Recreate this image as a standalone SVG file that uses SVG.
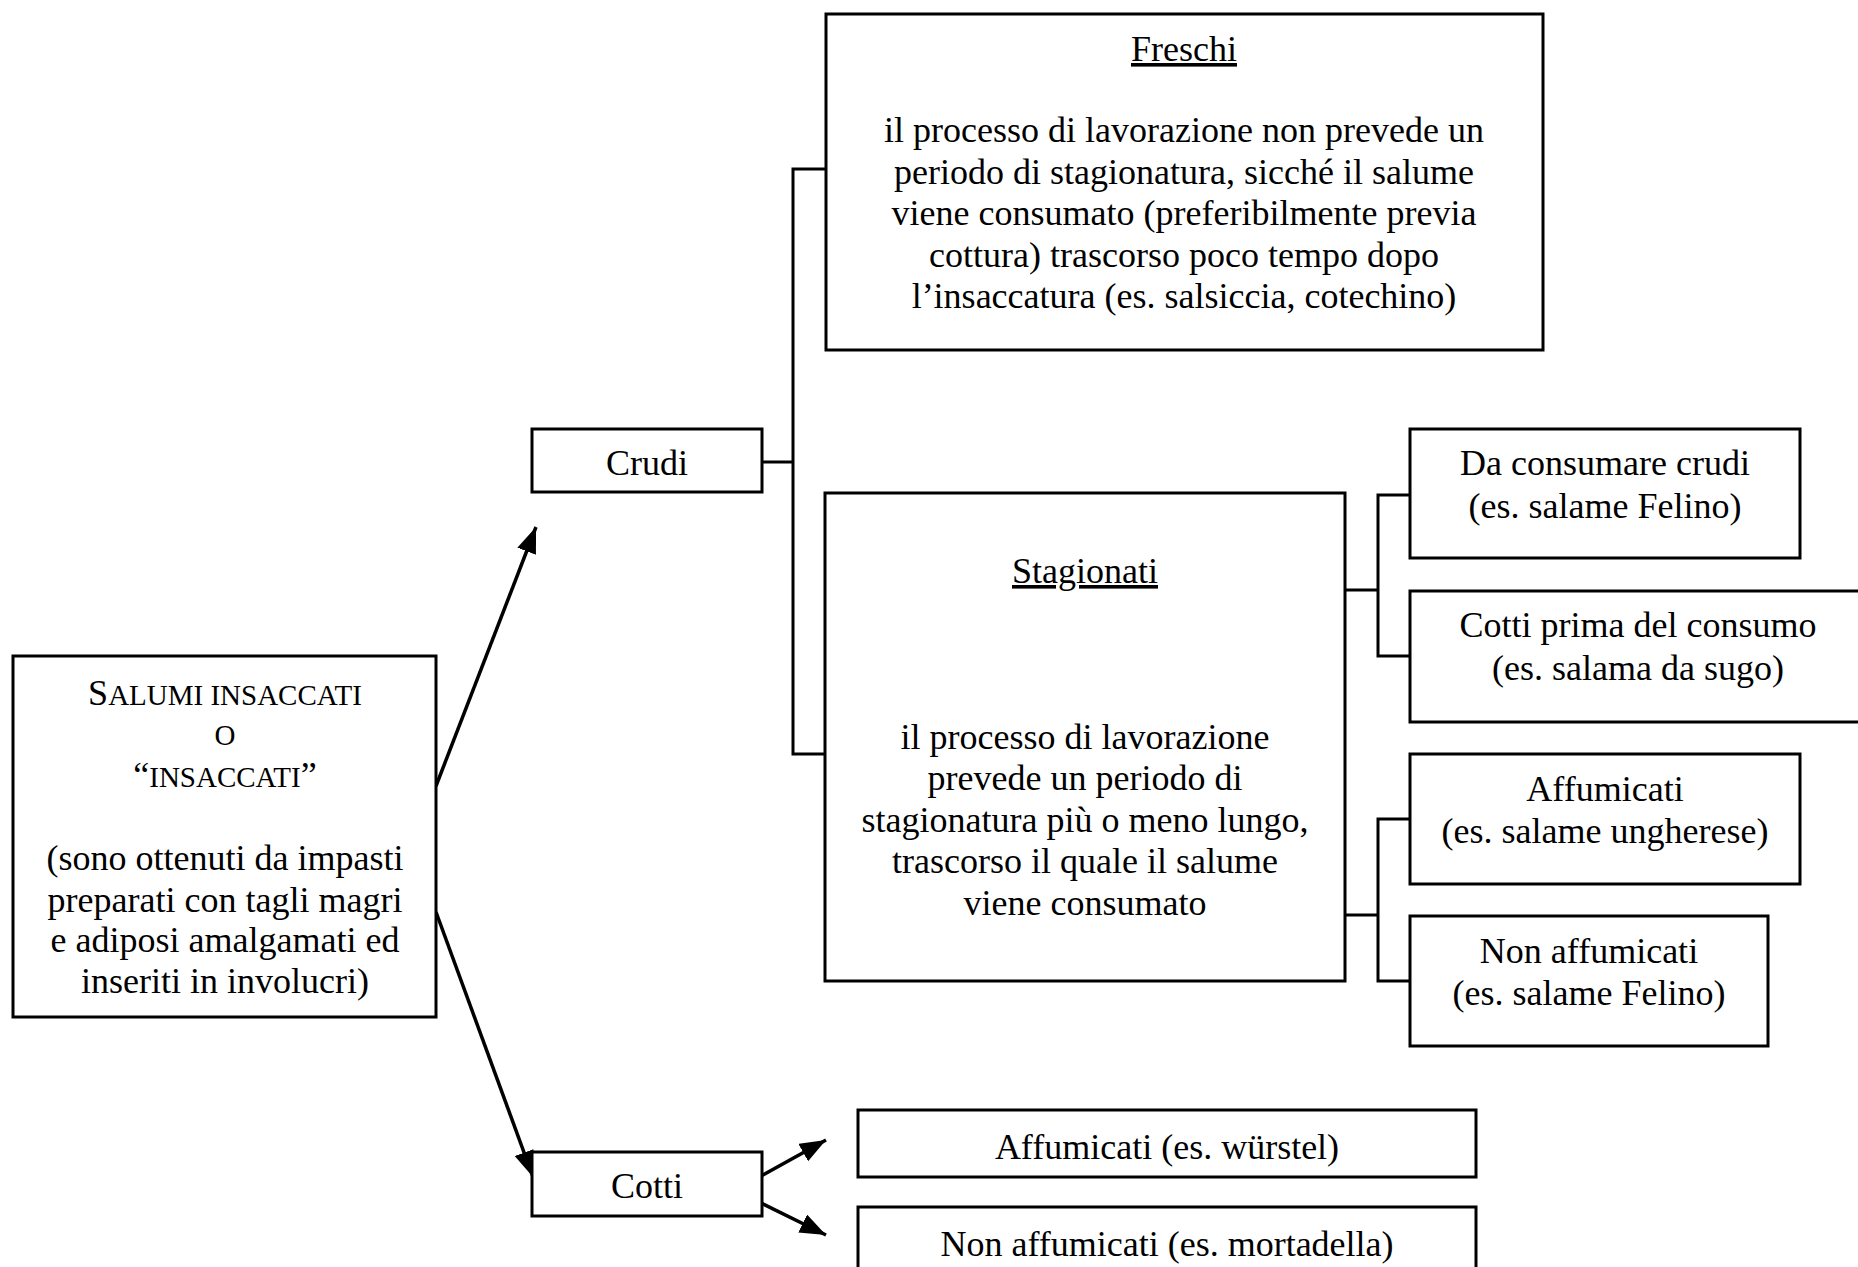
<svg xmlns="http://www.w3.org/2000/svg" width="1858" height="1267" viewBox="0 0 1858 1267">
<style>
rect.box{fill:#fff;stroke:#000;stroke-width:3}
text{font-family:"Liberation Serif","Times New Roman",serif;font-size:36px;fill:#000;text-anchor:middle}
.sc{font-size:29px}
.u{text-decoration:underline}
#connectors line,#connectors polyline{stroke:#000;stroke-width:3;fill:none}
#connectors line.arrow{stroke-width:3.5}
</style>
<defs>
<marker id="arr" markerUnits="userSpaceOnUse" markerWidth="30" markerHeight="24" refX="26" refY="10" orient="auto">
<path d="M0,0 L26,10 L0,20 z" fill="#000"/>
</marker>
</defs>
<rect width="1858" height="1267" fill="#fff"/>
<g id="connectors">
<line class="arrow" x1="436" y1="786" x2="536" y2="527" marker-end="url(#arr)"/>
<line class="arrow" x1="436" y1="912" x2="533" y2="1177" marker-end="url(#arr)"/>
<line class="arrow" x1="761" y1="1176" x2="826" y2="1140" marker-end="url(#arr)"/>
<line class="arrow" x1="761" y1="1203" x2="826" y2="1235" marker-end="url(#arr)"/>
<line x1="762" y1="462" x2="793" y2="462"/>
<polyline points="826,169 793,169 793,754 825,754"/>
<line x1="1345" y1="590" x2="1378" y2="590"/>
<polyline points="1410,495 1378,495 1378,656 1410,656"/>
<line x1="1345" y1="915" x2="1378" y2="915"/>
<polyline points="1410,819 1378,819 1378,981 1410,981"/>
</g>
<g id="main">
<rect class="box" x="13" y="656" width="423" height="361"/>
<text x="225" y="705">S<tspan class="sc">ALUMI INSACCATI</tspan></text>
<text x="225" y="745" class="sc">O</text>
<text x="225" y="787">“<tspan class="sc">INSACCATI</tspan>”</text>
<text x="225" y="870">(sono ottenuti da impasti</text>
<text x="225" y="912">preparati con tagli magri</text>
<text x="225" y="952">e adiposi amalgamati ed</text>
<text x="225" y="993">inseriti in involucri)</text>
</g>
<g id="crudi">
<rect class="box" x="532" y="429" width="230" height="63"/>
<text x="647" y="475">Crudi</text>
</g>
<g id="freschi">
<rect class="box" x="826" y="14" width="717" height="336"/>
<text x="1184" y="61" class="u">Freschi</text>
<text x="1184" y="142">il processo di lavorazione non prevede un</text>
<text x="1184" y="184">periodo di stagionatura, sicché il salume</text>
<text x="1184" y="225">viene consumato (preferibilmente previa</text>
<text x="1184" y="267">cottura) trascorso poco tempo dopo</text>
<text x="1184" y="308">l’insaccatura (es. salsiccia, cotechino)</text>
</g>
<g id="stagionati">
<rect class="box" x="825" y="493" width="520" height="488"/>
<text x="1085" y="583" class="u">Stagionati</text>
<text x="1085" y="749">il processo di lavorazione</text>
<text x="1085" y="790">prevede un periodo di</text>
<text x="1085" y="832">stagionatura più o meno lungo,</text>
<text x="1085" y="873">trascorso il quale il salume</text>
<text x="1085" y="915">viene consumato</text>
</g>
<g id="da-consumare">
<rect class="box" x="1410" y="429" width="390" height="129"/>
<text x="1605" y="475">Da consumare crudi</text>
<text x="1605" y="518">(es. salame Felino)</text>
</g>
<g id="cotti-prima">
<rect class="box" x="1410" y="591" width="470" height="131"/>
<text x="1638" y="637">Cotti prima del consumo</text>
<text x="1638" y="680">(es. salama da sugo)</text>
</g>
<g id="affumicati-stag">
<rect class="box" x="1410" y="754" width="390" height="130"/>
<text x="1605" y="801">Affumicati</text>
<text x="1605" y="843">(es. salame ungherese)</text>
</g>
<g id="non-affumicati-stag">
<rect class="box" x="1410" y="916" width="358" height="130"/>
<text x="1589" y="963">Non affumicati</text>
<text x="1589" y="1005">(es. salame Felino)</text>
</g>
<g id="cotti">
<rect class="box" x="532" y="1152" width="230" height="64"/>
<text x="647" y="1198">Cotti</text>
</g>
<g id="affumicati-cotti">
<rect class="box" x="858" y="1110" width="618" height="67"/>
<text x="1167" y="1159">Affumicati (es. würstel)</text>
</g>
<g id="non-affumicati-cotti">
<rect class="box" x="858" y="1207" width="618" height="90"/>
<text x="1167" y="1256">Non affumicati (es. mortadella)</text>
</g>
</svg>
